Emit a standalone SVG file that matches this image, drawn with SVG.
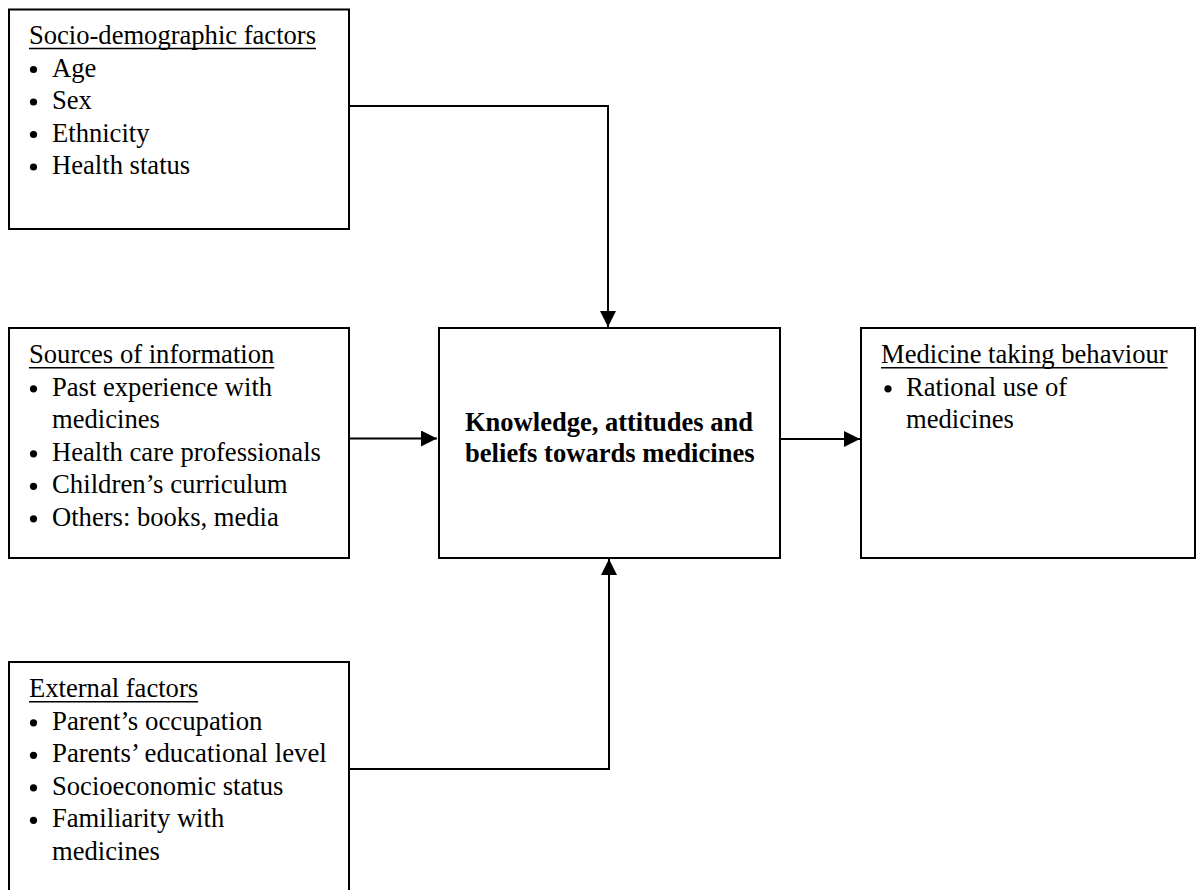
<svg xmlns="http://www.w3.org/2000/svg" width="1196" height="890" viewBox="0 0 1196 890">
<style>
.box{fill:#fff;stroke:#000;stroke-width:2}
.t{font-family:'Liberation Serif','Times New Roman',serif;font-size:26.5px;fill:#000}
.b{font-weight:bold}
.ul{stroke:#000;stroke-width:1.4}
.dot{fill:#000}
.conn{fill:none;stroke:#000;stroke-width:2}
</style>
<defs>
<marker id="ah" markerUnits="userSpaceOnUse" markerWidth="16" markerHeight="16" refX="16" refY="8" orient="auto">
<path d="M0,0 L16,8 L0,16 z" fill="#000"/>
</marker>
</defs>
<rect width="1196" height="890" fill="#fff"/>
<g id="connectors">
<path class="conn" d="M349,106 H608 V327" marker-end="url(#ah)"/>
<path class="conn" d="M347,438.5 H437" marker-end="url(#ah)"/>
<path class="conn" d="M347,769 H609 V559" marker-end="url(#ah)"/>
<path class="conn" d="M780,439 H860" marker-end="url(#ah)"/>
</g>
<g id="socio">
<rect class="box" x="9" y="9.5" width="340" height="219.5"/>
<text class="t" x="29" y="44" textLength="287" lengthAdjust="spacingAndGlyphs">Socio-demographic factors</text>
<line class="ul" x1="29" y1="48.5" x2="316" y2="48.5"/>
<circle class="dot" cx="33.5" cy="69.5" r="3.6"/>
<text class="t" x="52" y="76.5" textLength="44.3" lengthAdjust="spacingAndGlyphs">Age</text>
<circle class="dot" cx="33.5" cy="102" r="3.6"/>
<text class="t" x="52" y="109" textLength="39.9" lengthAdjust="spacingAndGlyphs">Sex</text>
<circle class="dot" cx="33.5" cy="134.5" r="3.6"/>
<text class="t" x="52" y="141.5" textLength="97.5" lengthAdjust="spacingAndGlyphs">Ethnicity</text>
<circle class="dot" cx="33.5" cy="167" r="3.6"/>
<text class="t" x="52" y="174" textLength="138.2" lengthAdjust="spacingAndGlyphs">Health status</text>
</g>
<g id="sources">
<rect class="box" x="9" y="328" width="340" height="230"/>
<text class="t" x="29" y="363.3" textLength="245.3" lengthAdjust="spacingAndGlyphs">Sources of information</text>
<line class="ul" x1="29" y1="367.8" x2="274.3" y2="367.8"/>
<circle class="dot" cx="33.5" cy="388.8" r="3.6"/>
<text class="t" x="52" y="395.8" textLength="220.1" lengthAdjust="spacingAndGlyphs">Past experience with</text>
<text class="t" x="52" y="428.3" textLength="107.9" lengthAdjust="spacingAndGlyphs">medicines</text>
<circle class="dot" cx="33.5" cy="453.8" r="3.6"/>
<text class="t" x="52" y="460.8" textLength="268.9" lengthAdjust="spacingAndGlyphs">Health care professionals</text>
<circle class="dot" cx="33.5" cy="486.3" r="3.6"/>
<text class="t" x="52" y="493.3" textLength="235.7" lengthAdjust="spacingAndGlyphs">Children’s curriculum</text>
<circle class="dot" cx="33.5" cy="518.8" r="3.6"/>
<text class="t" x="52" y="525.8" textLength="226.8" lengthAdjust="spacingAndGlyphs">Others: books, media</text>
</g>
<g id="external">
<rect class="box" x="9" y="662" width="340" height="260"/>
<text class="t" x="29" y="697.3" textLength="169.1" lengthAdjust="spacingAndGlyphs">External factors</text>
<line class="ul" x1="29" y1="701.8" x2="198.1" y2="701.8"/>
<circle class="dot" cx="33.5" cy="722.8" r="3.6"/>
<text class="t" x="52" y="729.8" textLength="210.5" lengthAdjust="spacingAndGlyphs">Parent’s occupation</text>
<circle class="dot" cx="33.5" cy="755.3" r="3.6"/>
<text class="t" x="52" y="762.3" textLength="274.8" lengthAdjust="spacingAndGlyphs">Parents’ educational level</text>
<circle class="dot" cx="33.5" cy="787.8" r="3.6"/>
<text class="t" x="52" y="794.8" textLength="231.3" lengthAdjust="spacingAndGlyphs">Socioeconomic status</text>
<circle class="dot" cx="33.5" cy="820.3" r="3.6"/>
<text class="t" x="52" y="827.3" textLength="172.2" lengthAdjust="spacingAndGlyphs">Familiarity with</text>
<text class="t" x="52" y="859.8" textLength="107.9" lengthAdjust="spacingAndGlyphs">medicines</text>
</g>
<g id="knowledge">
<rect class="box" x="439" y="328" width="341" height="230"/>
<text class="t b" x="465" y="430.7" textLength="288" lengthAdjust="spacingAndGlyphs">Knowledge, attitudes and</text>
<text class="t b" x="465" y="461.5" textLength="289.6" lengthAdjust="spacingAndGlyphs">beliefs towards medicines</text>
</g>
<g id="behaviour">
<rect class="box" x="861" y="328" width="334" height="230"/>
<text class="t" x="881" y="363.3" textLength="286.6" lengthAdjust="spacingAndGlyphs">Medicine taking behaviour</text>
<line class="ul" x1="881" y1="367.8" x2="1167.6" y2="367.8"/>
<circle class="dot" cx="888" cy="388.8" r="3.6"/>
<text class="t" x="906" y="395.8" textLength="161.1" lengthAdjust="spacingAndGlyphs">Rational use of</text>
<text class="t" x="906" y="428.3" textLength="107.9" lengthAdjust="spacingAndGlyphs">medicines</text>
</g>
</svg>
